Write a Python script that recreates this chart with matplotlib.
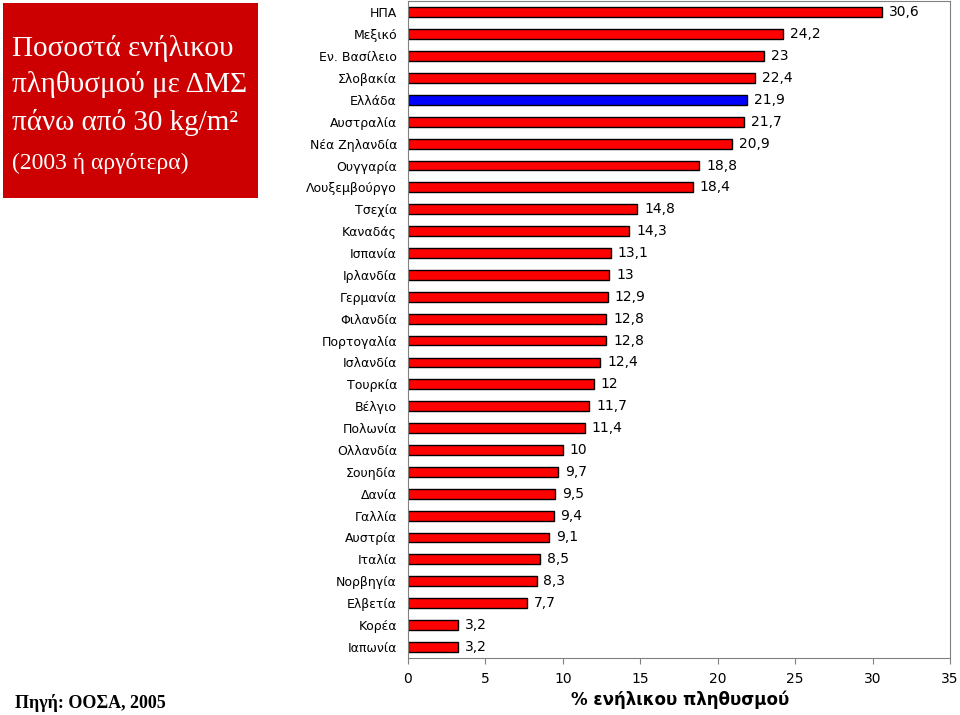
import matplotlib.pyplot as plt
from matplotlib.patches import Rectangle

# data, top to bottom as in the chart
countries = ["ΗΠΑ", "Μεξικό", "Εν. Βασίλειο", "Σλοβακία", "Ελλάδα", "Αυστραλία",
             "Νέα Ζηλανδία", "Ουγγαρία", "Λουξεμβούργο", "Τσεχία", "Καναδάς",
             "Ισπανία", "Ιρλανδία", "Γερμανία", "Φιλανδία", "Πορτογαλία",
             "Ισλανδία", "Τουρκία", "Βέλγιο", "Πολωνία", "Ολλανδία", "Σουηδία",
             "Δανία", "Γαλλία", "Αυστρία", "Ιταλία", "Νορβηγία", "Ελβετία",
             "Κορέα", "Ιαπωνία"]
values = [30.6, 24.2, 23, 22.4, 21.9, 21.7, 20.9, 18.8, 18.4, 14.8, 14.3,
          13.1, 13, 12.9, 12.8, 12.8, 12.4, 12, 11.7, 11.4, 10, 9.7,
          9.5, 9.4, 9.1, 8.5, 8.3, 7.7, 3.2, 3.2]
highlight = "Ελλάδα"
xticks = [0, 5, 10, 15, 20, 25, 30, 35]

plt.rcParams['font.family'] = ['DejaVu Sans']

fig = plt.figure(figsize=(9.6, 7.15), dpi=100)
ax = fig.add_axes([408 / 960, 0.080, 542 / 960, 0.918])

ypos = list(range(len(countries)))[::-1]
colors = ["#0000FF" if c == highlight else "#FF0000" for c in countries]
ax.barh(ypos, values, height=0.45, color=colors, edgecolor="black", linewidth=1)

for y, v in zip(ypos, values):
    lbl = ("%g" % v).replace(".", ",")
    ax.text(v + 0.45, y, lbl, va="center", ha="left", fontsize=10)

ax.set_xlim(0, 35)
ax.set_ylim(-0.5, len(countries) - 0.5)
ax.set_xticks(xticks)
ax.set_xticklabels([str(t) for t in xticks], fontsize=10)
ax.set_yticks(ypos)
ax.set_yticklabels(countries, fontsize=9)
ax.tick_params(axis="y", length=0, pad=8)
ax.tick_params(axis="x", length=4, color="#808080", pad=6)
for s in ax.spines.values():
    s.set_color("#808080")

fig.text(680 / 960, 1 - 700 / 715, "% ενήλικου πληθυσμού", fontsize=12,
         fontweight="bold", ha="center", va="center")

# red title box
fig.patches.append(Rectangle((3 / 960, 1 - 198 / 715), 255 / 960, 195 / 715,
                             transform=fig.transFigure, facecolor="#CC0000",
                             edgecolor="none"))
serif = ['Liberation Serif', 'DejaVu Serif']
title_lines = ["Ποσοστά ενήλικου", "πληθυσμού με ΔΜΣ", "πάνω από 30 kg/m²"]
for i, line in enumerate(title_lines):
    fig.text(12 / 960, 1 - (48 + i * 37) / 715, line, color="white",
             fontsize=21, family=serif, va="center")
fig.text(12 / 960, 1 - 163 / 715, "(2003 ή αργότερα)", color="white",
         fontsize=17, family=serif, va="center")

fig.text(15 / 960, 1 - 703 / 715, "Πηγή: ΟΟΣΑ, 2005", fontsize=13,
         fontweight="bold", family=serif, va="center")

fig.savefig("out.png", dpi=100)
